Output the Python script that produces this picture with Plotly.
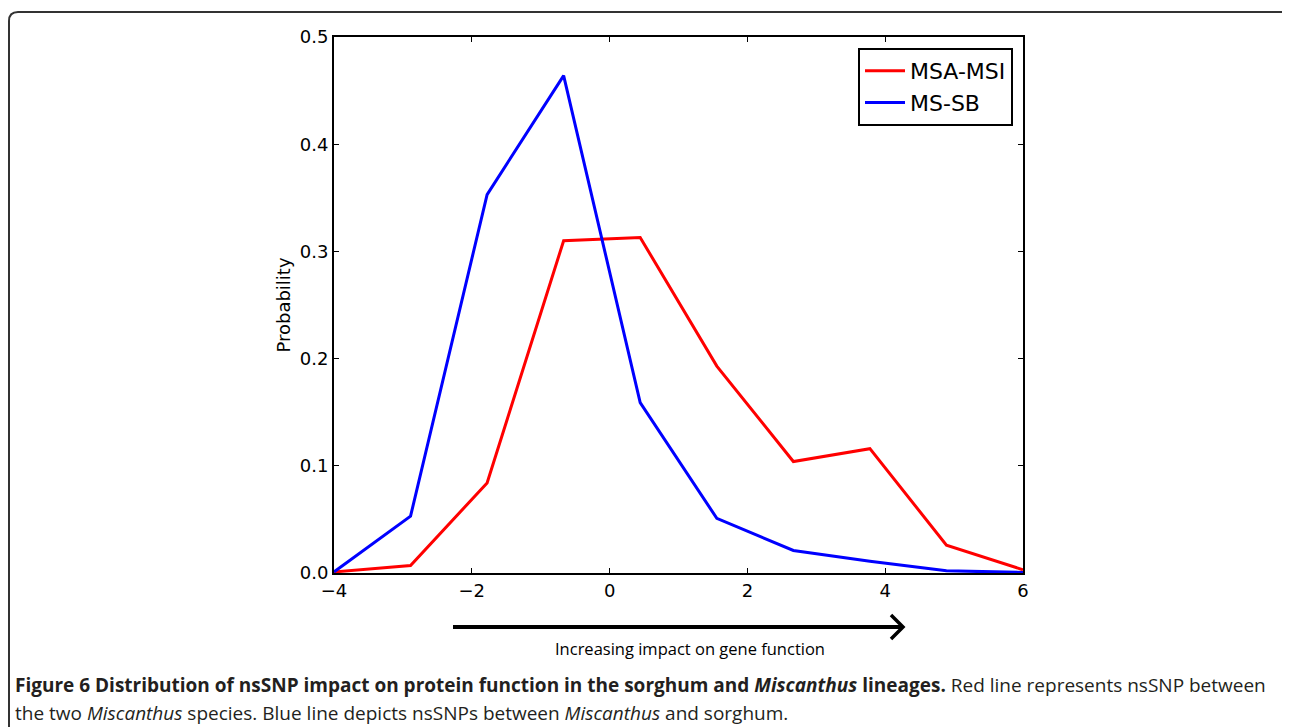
import plotly.graph_objects as go

x_vals = [-4.0, -2.889, -1.778, -0.667, 0.444, 1.556, 2.667, 3.778, 4.889, 6.0]
msa_msi = [0.001, 0.007, 0.084, 0.310, 0.313, 0.193, 0.104, 0.116, 0.026, 0.003]
ms_sb = [0.001, 0.053, 0.353, 0.464, 0.159, 0.051, 0.021, 0.011, 0.002, 0.0005]
x_ticks = [-4, -2, 0, 2, 4, 6]
y_ticks = [0.0, 0.1, 0.2, 0.3, 0.4, 0.5]
y_tick_text = ["0.0", "0.1", "0.2", "0.3", "0.4", "0.5"]
x_tick_text = ["\u22124", "\u22122", "0", "2", "4", "6"]

W, H = 1290, 727
# the page body adds an 8px offset; work in screenshot pixels and compensate
OFF = 8
L, R, T, B = 334 - OFF, 1023 - OFF, 37 - OFF, 573 - OFF


def px(xp):
    return (xp - OFF - L) / (R - L)


def py(yp):
    return (B - (yp - OFF)) / (B - T)


fig = go.Figure()
fig.add_trace(go.Scatter(x=x_vals, y=msa_msi, mode="lines", name="MSA-MSI",
                         line=dict(color="#ff0000", width=3)))
fig.add_trace(go.Scatter(x=x_vals, y=ms_sb, mode="lines", name="MS-SB",
                         line=dict(color="#0000ff", width=3)))

tickfont = dict(family="DejaVu Sans", size=18, color="black")
fig.update_xaxes(range=[-4, 6], tickvals=x_ticks, ticktext=x_tick_text,
                 showline=True, linecolor="black", linewidth=2, mirror="allticks",
                 ticks="inside", ticklen=5, tickcolor="black", tickwidth=1,
                 showgrid=False, zeroline=False, tickfont=tickfont)
fig.update_yaxes(range=[0, 0.5], tickvals=y_ticks, ticktext=y_tick_text,
                 showline=True, linecolor="black", linewidth=2, mirror="allticks",
                 ticks="inside", ticklen=5, tickcolor="black", tickwidth=1,
                 showgrid=False, zeroline=False, tickfont=tickfont,
                 title=dict(text="Probability", font=dict(family="DejaVu Sans", size=18, color="black"),
                            standoff=4))

# rounded frame
r = 9
x0, y0, x1, y1 = 9, 12, 1300, 745
path = (f"M {px(x0 + r)},{py(y0)} L {px(x1 - r)},{py(y0)} Q {px(x1)},{py(y0)} {px(x1)},{py(y0 + r)} "
        f"L {px(x1)},{py(y1 - r)} Q {px(x1)},{py(y1)} {px(x1 - r)},{py(y1)} "
        f"L {px(x0 + r)},{py(y1)} Q {px(x0)},{py(y1)} {px(x0)},{py(y1 - r)} "
        f"L {px(x0)},{py(y0 + r)} Q {px(x0)},{py(y0)} {px(x0 + r)},{py(y0)} Z")
shapes = [
    dict(type="path", xref="paper", yref="paper", path=path,
         line=dict(color="#333333", width=2), layer="below"),
    dict(type="line", xref="paper", yref="paper", x0=px(453), x1=px(901), y0=py(627), y1=py(627),
         line=dict(color="black", width=4)),
    dict(type="path", xref="paper", yref="paper",
         path=f"M {px(891)},{py(615)} L {px(903)},{py(627)} L {px(891)},{py(639)}",
         line=dict(color="black", width=3.5)),
]

cap_font = "Open Sans, sans-serif"
annotations = [
    dict(text="Increasing impact on gene function", xref="paper", yref="paper",
         x=px(690), y=py(648), xanchor="center", yanchor="middle", showarrow=False,
         font=dict(family="Open Sans", size=16.5, color="black")),
    dict(text="<b>Figure 6 Distribution of nsSNP impact on protein function in the sorghum and <i>Miscanthus</i> lineages.</b> "
              "Red line represents nsSNP between",
         xref="paper", yref="paper", x=px(13), y=py(685), xanchor="left", yanchor="middle",
         showarrow=False, font=dict(family=cap_font, size=19, color="#231f20")),
    dict(text="the two <i>Miscanthus</i> species. Blue line depicts nsSNPs between <i>Miscanthus</i> and sorghum.",
         xref="paper", yref="paper", x=px(13), y=py(713), xanchor="left", yanchor="middle",
         showarrow=False, font=dict(family=cap_font, size=19, color="#231f20")),
]

fig.update_layout(
    width=W, height=H,
    margin=dict(l=L, r=W - R, t=T, b=H - B, pad=0),
    paper_bgcolor="white", plot_bgcolor="white",
    showlegend=True,
    legend=dict(x=px(1013), y=py(48), xanchor="right", yanchor="top",
                bordercolor="black", borderwidth=2, bgcolor="white",
                font=dict(family="DejaVu Sans", size=22, color="black"),
                itemwidth=40, tracegroupgap=0),
    shapes=shapes, annotations=annotations,
)

fig.write_html("out.html")
